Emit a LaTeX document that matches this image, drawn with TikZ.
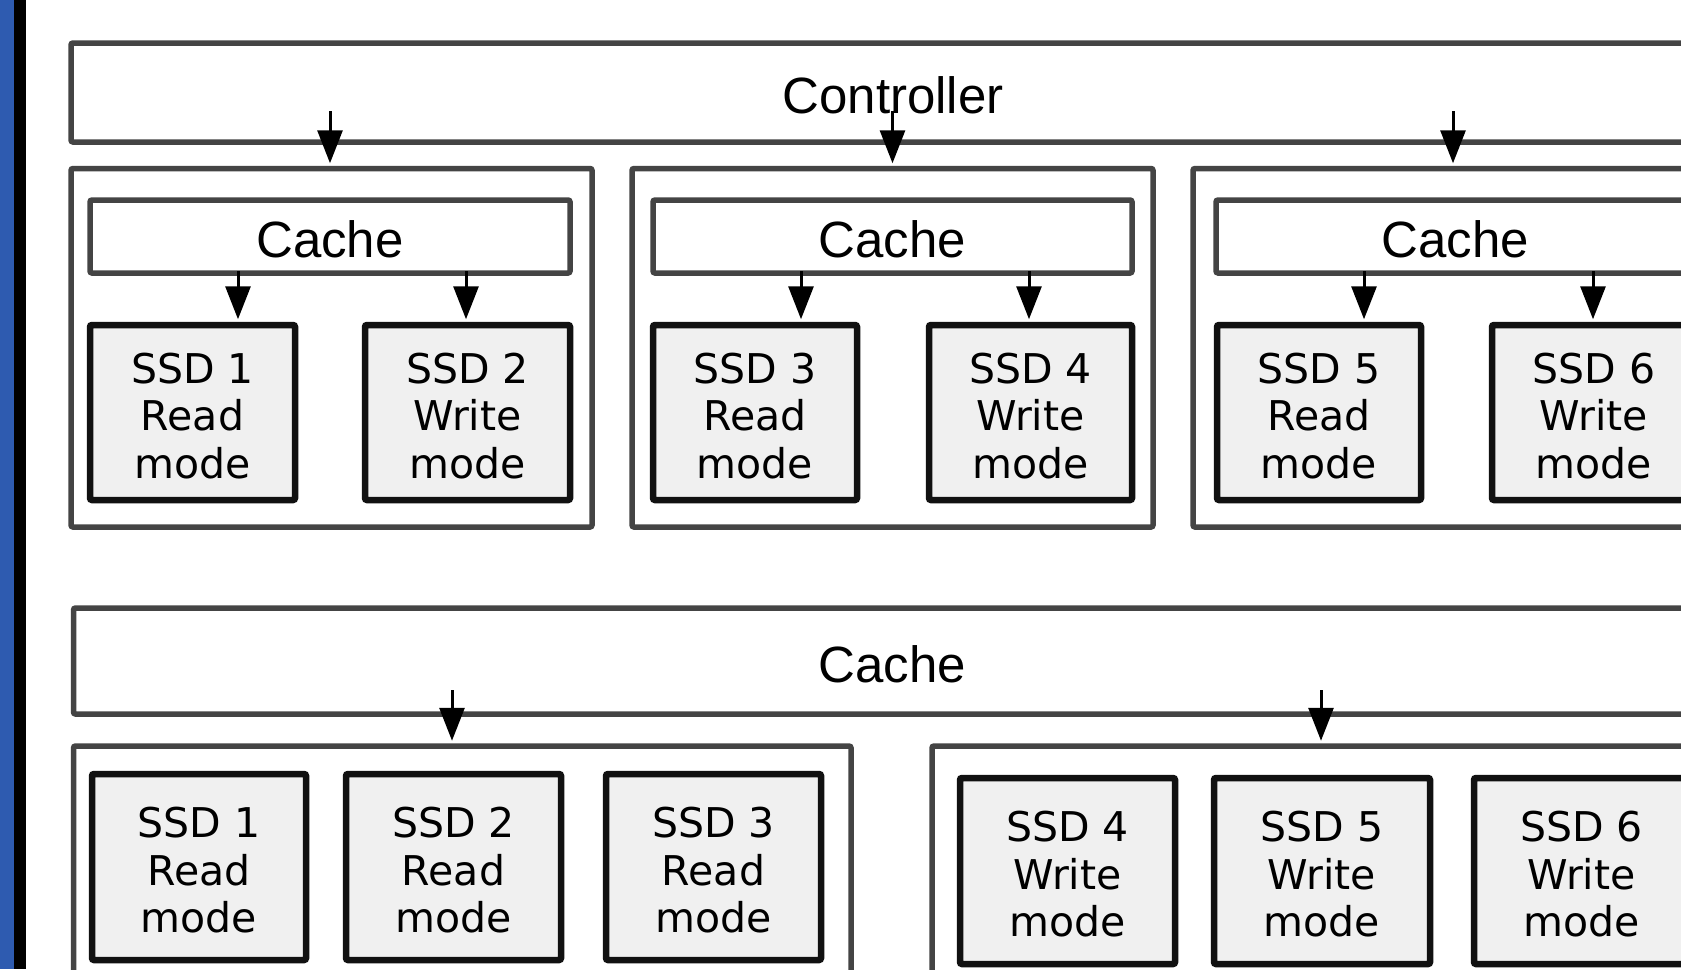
\documentclass[tikz,border=0pt]{standalone}
\usepackage{fontspec}
\setmainfont{Liberation Sans}
\newfontfamily\ssdfam{DejaVu Sans}
\usetikzlibrary{arrows.meta}
\definecolor{boxgray}{HTML}{444444}
\definecolor{ssdline}{HTML}{111111}
\definecolor{ssdfill}{HTML}{F0F0F0}
\definecolor{barblue}{HTML}{2E5BB0}
\newcommand\topstrut{\rule{0pt}{37.5pt}}
\tikzset{
  outerbox/.style={draw=boxgray, line width=5.5pt, rounded corners=2pt, fill=white, inner sep=0pt},
  labelbox/.style={outerbox, font=\fontsize{51}{60}\selectfont, text height=42pt, text depth=0pt},
  ssdbox/.style={draw=ssdline, line width=6.5pt, rounded corners=2pt, fill=ssdfill, inner sep=0pt,
    align=center, font=\ssdfam\fontsize{41}{47.5}\selectfont},
  arr/.style={-{Triangle[length=33pt,width=25pt]}, line width=3pt, shorten >=2.5pt}
}
\begin{document}
\begin{tikzpicture}[x=1pt,y=-1pt]
\useasboundingbox (0,0) rectangle (1681,969);
\clip (0,0) rectangle (1681,969);
\fill[white] (0,0) rectangle (1681,969);
% left bars
\fill[barblue] (0,0) rectangle (14,969);
\fill[black] (14,0) rectangle (26,969);

% ---------- top part ----------
\node[labelbox, minimum width=1644pt, minimum height=99pt] (ctrl) at (893,92.5) {Controller};

\node[outerbox, minimum width=521pt, minimum height=358.5pt] (g1) at (331.5,347.75) {};
\node[outerbox, minimum width=521pt, minimum height=358.5pt] (g2) at (892.5,347.75) {};
\node[outerbox, minimum width=521pt, minimum height=358.5pt] (g3) at (1453.5,347.75) {};

\node[labelbox, minimum width=480pt, minimum height=73pt] (c1) at (330,236.5) {Cache};
\node[labelbox, minimum width=479pt, minimum height=73pt] (c2) at (892.5,236.5) {Cache};
\node[labelbox, minimum width=479pt, minimum height=73pt] (c3) at (1455.5,236.5) {Cache};

\node[ssdbox, minimum width=205pt, minimum height=175pt] (s1) at (192.5,412.5) {\topstrut SSD 1\\Read\\mode};
\node[ssdbox, minimum width=205pt, minimum height=175pt] (s2) at (467.5,412.5) {\topstrut SSD 2\\Write\\mode};
\node[ssdbox, minimum width=204pt, minimum height=175pt] (s3) at (755,412.5) {\topstrut SSD 3\\Read\\mode};
\node[ssdbox, minimum width=203pt, minimum height=175pt] (s4) at (1030.5,412.5) {\topstrut SSD 4\\Write\\mode};
\node[ssdbox, minimum width=204pt, minimum height=175pt] (s5) at (1319,412.5) {\topstrut SSD 5\\Read\\mode};
\node[ssdbox, minimum width=204pt, minimum height=175pt] (s6) at (1594,412.5) {\topstrut SSD 6\\Write\\mode};

% controller -> groups
\coordinate (a1) at (330,111);
\coordinate (a2) at (892.5,111);
\coordinate (a3) at (1453,111);
\draw[arr] (a1) -- (a1 |- g1.north);
\draw[arr] (a2) -- (a2 |- g2.north);
\draw[arr] (a3) -- (a3 |- g3.north);

% cache -> ssd
\coordinate (k1) at (238,271);
\coordinate (k2) at (466,271);
\coordinate (k3) at (801,271);
\coordinate (k4) at (1029,271);
\coordinate (k5) at (1364,271);
\coordinate (k6) at (1593,271);
\draw[arr] (k1) -- (k1 |- s1.north);
\draw[arr] (k2) -- (k2 |- s2.north);
\draw[arr] (k3) -- (k3 |- s3.north);
\draw[arr] (k4) -- (k4 |- s4.north);
\draw[arr] (k5) -- (k5 |- s5.north);
\draw[arr] (k6) -- (k6 |- s6.north);

% ---------- bottom part ----------
\node[labelbox, minimum width=1637.5pt, minimum height=106pt] (bc) at (892.25,661) {Cache};

\node[outerbox, minimum width=777.5pt, minimum height=264pt] (lg1) at (462.25,878) {};
\node[outerbox, minimum width=777.5pt, minimum height=264pt] (lg2) at (1320.75,878) {};

\node[ssdbox, minimum width=214pt, minimum height=186pt] (t1) at (199,867) {\topstrut SSD 1\\Read\\mode};
\node[ssdbox, minimum width=215pt, minimum height=186pt] (t2) at (453.5,867) {\topstrut SSD 2\\Read\\mode};
\node[ssdbox, minimum width=215pt, minimum height=186pt] (t3) at (713.5,867) {\topstrut SSD 3\\Read\\mode};
\node[ssdbox, minimum width=215pt, minimum height=186pt] (t4) at (1067.5,871) {\topstrut SSD 4\\Write\\mode};
\node[ssdbox, minimum width=216pt, minimum height=186pt] (t5) at (1322,871) {\topstrut SSD 5\\Write\\mode};
\node[ssdbox, minimum width=215pt, minimum height=186pt] (t6) at (1581.5,871) {\topstrut SSD 6\\Write\\mode};

\coordinate (b1) at (452,690);
\coordinate (b2) at (1321,690);
\draw[arr] (b1) -- (b1 |- lg1.north);
\draw[arr] (b2) -- (b2 |- lg2.north);
\end{tikzpicture}
\end{document}
